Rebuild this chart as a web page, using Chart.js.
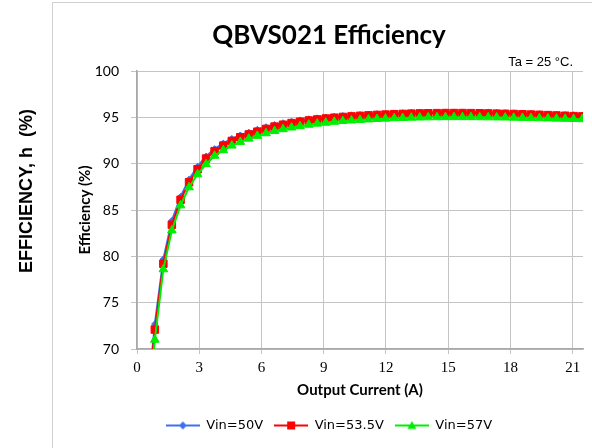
<!DOCTYPE html>
<html>
<head>
<meta charset="utf-8">
<script src="https://cdn.jsdelivr.net/npm/chart.js@4"></script>
<style>
	body { margin: 0; background: #fff; }
	canvas { display: block; }
</style>
</head>
<body>
<canvas id="effChart" width="592" height="448"></canvas>
<script>
// Output current (A) - first point lies below the 70% axis and is clipped
const current = [0.45, 0.86, 1.27, 1.68, 2.1, 2.51, 2.92, 3.33, 3.74, 4.16, 4.57, 4.98, 5.39, 5.8, 6.22, 6.63, 7.04, 7.45, 7.86, 8.28, 8.69, 9.1, 9.51, 9.92, 10.34, 10.75, 11.16, 11.57, 11.98, 12.4, 12.81, 13.22, 13.63, 14.04, 14.46, 14.87, 15.28, 15.69, 16.1, 16.52, 16.93, 17.34, 17.75, 18.16, 18.58, 18.99, 19.4, 19.81, 20.22, 20.64, 21.05, 21.46];

// Efficiency (%) per input voltage
const eff50 = [63.0, 72.7, 79.7, 83.85, 86.45, 88.3, 89.7, 90.8, 91.6, 92.2, 92.7, 93.08, 93.38, 93.68, 93.97, 94.2, 94.4, 94.56, 94.7, 94.82, 94.92, 95.02, 95.1, 95.17, 95.22, 95.28, 95.32, 95.37, 95.4, 95.44, 95.47, 95.5, 95.52, 95.54, 95.55, 95.56, 95.56, 95.56, 95.55, 95.54, 95.52, 95.5, 95.48, 95.46, 95.43, 95.4, 95.37, 95.34, 95.3, 95.27, 95.23, 95.2];
const eff535 = [62.5, 72.1, 79.2, 83.4, 86.1, 88.0, 89.4, 90.55, 91.35, 91.95, 92.45, 92.85, 93.15, 93.45, 93.75, 94.0, 94.2, 94.38, 94.53, 94.66, 94.77, 94.87, 94.96, 95.04, 95.1, 95.16, 95.21, 95.26, 95.3, 95.34, 95.37, 95.4, 95.42, 95.44, 95.45, 95.46, 95.46, 95.46, 95.45, 95.44, 95.42, 95.4, 95.38, 95.36, 95.33, 95.3, 95.27, 95.24, 95.2, 95.17, 95.13, 95.1];
const eff57 = [61.0, 71.0, 78.6, 82.8, 85.5, 87.45, 88.85, 89.95, 90.85, 91.45, 91.95, 92.35, 92.7, 93.0, 93.28, 93.52, 93.72, 93.9, 94.05, 94.2, 94.32, 94.42, 94.52, 94.6, 94.66, 94.72, 94.77, 94.82, 94.86, 94.9, 94.93, 94.96, 94.98, 95.0, 95.01, 95.02, 95.02, 95.02, 95.02, 95.01, 95.0, 94.99, 94.98, 94.96, 94.94, 94.92, 94.9, 94.88, 94.86, 94.84, 94.82, 94.8];

const seriesNames = ['Vin=50V', 'Vin=53.5V', 'Vin=57V'];
const xTicks = [0, 3, 6, 9, 12, 15, 18, 21];
const yTicks = [70, 75, 80, 85, 90, 95, 100];

const BLUE = '#3f6ef2';
const RED = '#ff0000';
const GREEN = '#00ee00';

function toPoints(values) {
	return current.map(function(x, i) {
		return { x: x, y: values[i] };
	});
}

// legend sample: line with the marker in the middle
function legendIcon(color, style) {
	const c = document.createElement('canvas');
	c.width = 34;
	c.height = 12;
	const g = c.getContext('2d');
	g.strokeStyle = color;
	g.lineWidth = 2;
	g.beginPath();
	g.moveTo(0, 6);
	g.lineTo(34, 6);
	g.stroke();
	g.fillStyle = color;
	g.beginPath();
	if (style === 'rectRot') {
		g.moveTo(17, 2); g.lineTo(21, 6); g.lineTo(17, 10); g.lineTo(13, 6);
	} else if (style === 'rect') {
		g.rect(13, 2, 8, 8);
	} else {
		g.moveTo(17, 1.5); g.lineTo(21.5, 9.5); g.lineTo(12.5, 9.5);
	}
	g.closePath();
	g.fill();
	return c;
}

const icons = [legendIcon(BLUE, 'rectRot'), legendIcon(RED, 'rect'), legendIcon(GREEN, 'triangle')];

const framePlugin = {
	id: 'frame',
	beforeDraw: function(chart) {
		const ctx = chart.ctx;
		ctx.save();
		ctx.fillStyle = '#fff';
		ctx.fillRect(0, 0, chart.width, chart.height);
		ctx.strokeStyle = '#d0d0d0';
		ctx.lineWidth = 1;
		ctx.beginPath();
		ctx.moveTo(52.5, chart.height);
		ctx.lineTo(52.5, 2.5);
		ctx.lineTo(chart.width, 2.5);
		ctx.stroke();
		ctx.restore();
	},
	afterDraw: function(chart) {
		const ctx = chart.ctx;
		ctx.save();
		ctx.fillStyle = '#000';
		ctx.font = '13px "Liberation Sans", Arial, sans-serif';
		ctx.textAlign = 'right';
		ctx.textBaseline = 'middle';
		ctx.fillText('Ta = 25 °C.', 573, 62);
		// outer axis label
		ctx.translate(27, 191);
		ctx.rotate(-Math.PI / 2);
		ctx.font = 'bold 18px "Liberation Sans", Arial, sans-serif';
		ctx.textAlign = 'center';
		ctx.fillText('EFFICIENCY, h  (%)', 0, 0);
		ctx.restore();
	}
};

const ctx = document.getElementById('effChart').getContext('2d');
new Chart(ctx, {
	type: 'line',
	data: {
		datasets: [{
			label: seriesNames[0],
			data: toPoints(eff50),
			borderColor: BLUE,
			backgroundColor: BLUE,
			borderWidth: 2,
			pointStyle: 'rectRot',
			pointRadius: 3.2,
			pointBorderWidth: 1,
			order: 3
		}, {
			label: seriesNames[1],
			data: toPoints(eff535),
			borderColor: RED,
			backgroundColor: RED,
			borderWidth: 2,
			pointStyle: 'rect',
			pointRadius: 5.3,
			pointBorderWidth: 1,
			order: 2
		}, {
			label: seriesNames[2],
			data: toPoints(eff57),
			borderColor: GREEN,
			backgroundColor: GREEN,
			borderWidth: 2,
			pointStyle: 'triangle',
			pointRadius: 5,
			pointBorderWidth: 1,
			order: 1
		}]
	},
	options: {
		responsive: false,
		animation: false,
		layout: {
			padding: { left: 66, right: 0, top: 0, bottom: 6 }
		},
		scales: {
			x: {
				type: 'linear',
				min: 0,
				max: 21.5,
				afterBuildTicks: function(scale) {
					scale.ticks = xTicks.map(function(v) { return { value: v }; });
				},
				afterFit: function(scale) {
					scale.height = 59;
				},
				grid: { color: '#c4c4c4', lineWidth: 1, tickLength: 5 },
				border: { color: '#a8a8a8', width: 1.5 },
				ticks: {
					padding: 5,
					color: '#000',
					font: { family: '"Liberation Serif", serif', size: 15 },
					callback: function(v) { return String(v); }
				},
				title: {
					display: true,
					text: 'Output Current (A)',
					color: '#000',
					font: { family: 'Lato, sans-serif', size: 15, weight: 'bold' },
					padding: { top: 0, bottom: 9 }
				}
			},
			y: {
				min: 70,
				max: 100,
				afterBuildTicks: function(scale) {
					scale.ticks = yTicks.map(function(v) { return { value: v }; });
				},
				afterFit: function(scale) {
					scale.width = 71;
				},
				grid: { color: '#c4c4c4', lineWidth: 1, tickLength: 6 },
				border: { color: '#a8a8a8', width: 1.5 },
				ticks: {
					padding: 12,
					color: '#000',
					font: { family: 'Lato, sans-serif', size: 14 }
				},
				title: {
					display: true,
					text: 'Efficiency (%)',
					color: '#000',
					font: { family: 'Lato, sans-serif', size: 15, weight: 'bold' },
					padding: { top: 10, bottom: 0 }
				}
			},
			yRight: {
				position: 'right',
				min: 70,
				max: 100,
				afterFit: function(scale) {
					scale.width = 9;
				},
				grid: { display: false },
				border: { display: false },
				ticks: { display: false }
			}
		},
		plugins: {
			title: {
				display: true,
				text: 'QBVS021 Efficiency',
				color: '#000',
				font: { family: 'Lato, sans-serif', size: 26, weight: 'bold' },
				padding: { top: 20.4, bottom: 19.4 }
			},
			legend: {
				position: 'bottom',
				labels: {
					usePointStyle: true,
					pointStyleWidth: 34,
					padding: 11,
					color: '#000',
					font: { family: '"DejaVu Sans", sans-serif', size: 13 },
					sort: function(a, b) { return a.datasetIndex - b.datasetIndex; },
					generateLabels: function(chart) {
						const items = Chart.defaults.plugins.legend.labels.generateLabels(chart);
						items.forEach(function(item) {
							item.pointStyle = icons[item.datasetIndex];
						});
						return items;
					}
				}
			},
			tooltip: { enabled: false }
		}
	},
	plugins: [framePlugin]
});
</script>
</body>
</html>
